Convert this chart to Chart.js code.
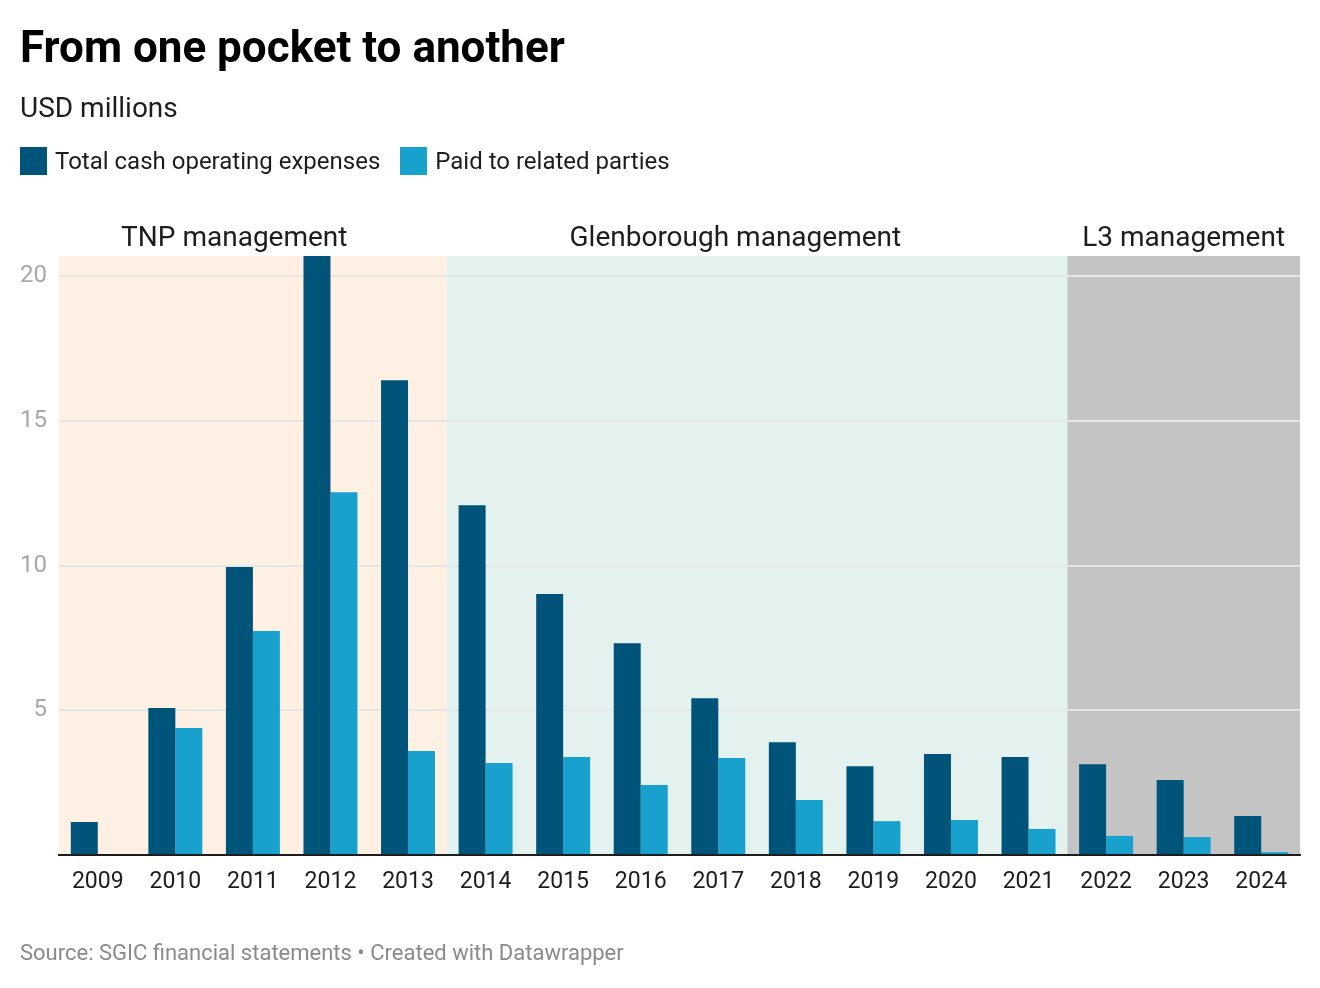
<!DOCTYPE html>
<html>
<head>
<meta charset="utf-8">
<script src="https://cdn.jsdelivr.net/npm/chart.js@4.4.1/dist/chart.umd.min.js"></script>
<style>
  html, body { margin: 0; padding: 0; background: #ffffff; }
  body { width: 1320px; height: 988px; position: relative; overflow: hidden; font-family: Roboto, "Noto Sans", sans-serif; }
  .t { position: absolute; left: 20px; white-space: nowrap; line-height: 1; }
  #title { top: 25px; font-size: 44px; font-weight: 700; color: #000; }
  #sub { top: 94px; font-size: 28px; color: #1d1d1d; }
  #legend { position: absolute; left: 20px; top: 147px; display: flex; align-items: center; font-size: 24px; color: #1d1d1d; line-height: 1; }
  .sw { width: 27px; height: 28px; display: inline-block; margin-right: 8px; }
  .item { display: flex; align-items: center; margin-right: 20px; }
  #source { top: 942px; font-size: 22px; color: #8a8a8a; }
  #wrap { position: absolute; left: 0; top: 0; width: 1320px; height: 988px; }
</style>
</head>
<body>
<div id="wrap"><canvas id="c"></canvas></div>
<div class="t" id="title">From one pocket to another</div>
<div class="t" id="sub">USD millions</div>
<div id="legend"></div>
<div class="t" id="source">Source: SGIC financial statements • Created with Datawrapper</div>
<script>
// ---- data ----
const years = ['2009','2010','2011','2012','2013','2014','2015','2016','2017','2018','2019','2020','2021','2022','2023','2024'];
const totalExpenses = [1.14, 5.08, 9.95, 20.7, 16.41, 12.09, 9.02, 7.32, 5.42, 3.9, 3.07, 3.49, 3.39, 3.14, 2.59, 1.35];
const relatedParties = [null, 4.39, 7.74, 12.54, 3.59, 3.18, 3.39, 2.42, 3.35, 1.9, 1.17, 1.21, 0.9, 0.66, 0.62, 0.1];
const seriesNames = ['Total cash operating expenses', 'Paid to related parties'];
const seriesColors = ['#00547a', '#18a1cd'];
const yTicks = [5, 10, 15, 20];
const yMax = 20.7;
// management periods (category index ranges)
const regionNames = ['TNP management', 'Glenborough management', 'L3 management'];
const regionStart = [0, 5, 13];
const regionEnd = [4, 12, 15];
const regionColors = ['#fef1e4', '#e4f2ef', '#c4c4c4'];
const regionLabelAt = [1.76, 8.22, 14.0];

// ---- legend ----
const lg = document.getElementById('legend');
seriesNames.forEach((n, i) => {
  const it = document.createElement('div');
  it.className = 'item';
  const sw = document.createElement('span');
  sw.className = 'sw';
  sw.style.background = seriesColors[i];
  const tx = document.createElement('span');
  tx.textContent = n;
  it.appendChild(sw); it.appendChild(tx);
  lg.appendChild(it);
});

const regionPlugin = {
  id: 'regions',
  beforeDraw(chart) {
    const { ctx, chartArea, scales } = chart;
    const x = scales.x;
    ctx.save();
    for (let i = 0; i < regionNames.length; i++) {
      const x0 = Math.max(chartArea.left, x.getPixelForValue(regionStart[i] - 0.5));
      const x1 = Math.min(chartArea.right, x.getPixelForValue(regionEnd[i] + 0.5));
      ctx.fillStyle = regionColors[i];
      ctx.fillRect(x0, chartArea.top, x1 - x0, chartArea.bottom - chartArea.top);
    }
    ctx.fillStyle = '#1d1d1d';
    ctx.font = '28px Roboto';
    ctx.textAlign = 'center';
    ctx.textBaseline = 'alphabetic';
    for (let i = 0; i < regionNames.length; i++) {
      ctx.fillText(regionNames[i], x.getPixelForValue(regionLabelAt[i]), chartArea.top - 10);
    }
    ctx.restore();
  }
};

new Chart(document.getElementById('c'), {
  type: 'bar',
  data: {
    labels: years,
    datasets: [
      { label: seriesNames[0], data: totalExpenses, backgroundColor: seriesColors[0] },
      { label: seriesNames[1], data: relatedParties, backgroundColor: seriesColors[1] }
    ]
  },
  options: {
    responsive: true,
    maintainAspectRatio: false,
    animation: false,
    layout: { padding: { top: 256, left: 0, right: 20, bottom: 83 } },
    datasets: { bar: { barPercentage: 1.0, categoryPercentage: 0.696, borderWidth: 0 } },
    plugins: { legend: { display: false }, tooltip: { enabled: false }, title: { display: false } },
    scales: {
      x: {
        offset: true,
        grid: { display: false, drawTicks: false },
        border: { display: true, color: '#1d1d1d', width: 2, z: 1 },
        ticks: { color: '#1d1d1d', font: { family: 'Roboto', size: 23 }, padding: 13, maxRotation: 0, autoSkip: false },
        afterFit(s) { s.height = 50; }
      },
      y: {
        min: 0,
        max: yMax,
        grid: {
          drawTicks: false,
          lineWidth: 2,
          color: (c) => (c.tick && yTicks.includes(c.tick.value)) ? '#e6e6e6' : 'rgba(0,0,0,0)'
        },
        border: { display: false },
        ticks: {
          stepSize: 5,
          includeBounds: false,
          color: '#a8a8a8',
          font: { family: 'Roboto', size: 24, lineHeight: 1.0 },
          padding: 12,
          callback: (v) => yTicks.includes(v) ? String(v) : ''
        },
        afterFit(s) { s.width = 59; }
      }
    }
  },
  plugins: [regionPlugin]
});
</script>
</body>
</html>
